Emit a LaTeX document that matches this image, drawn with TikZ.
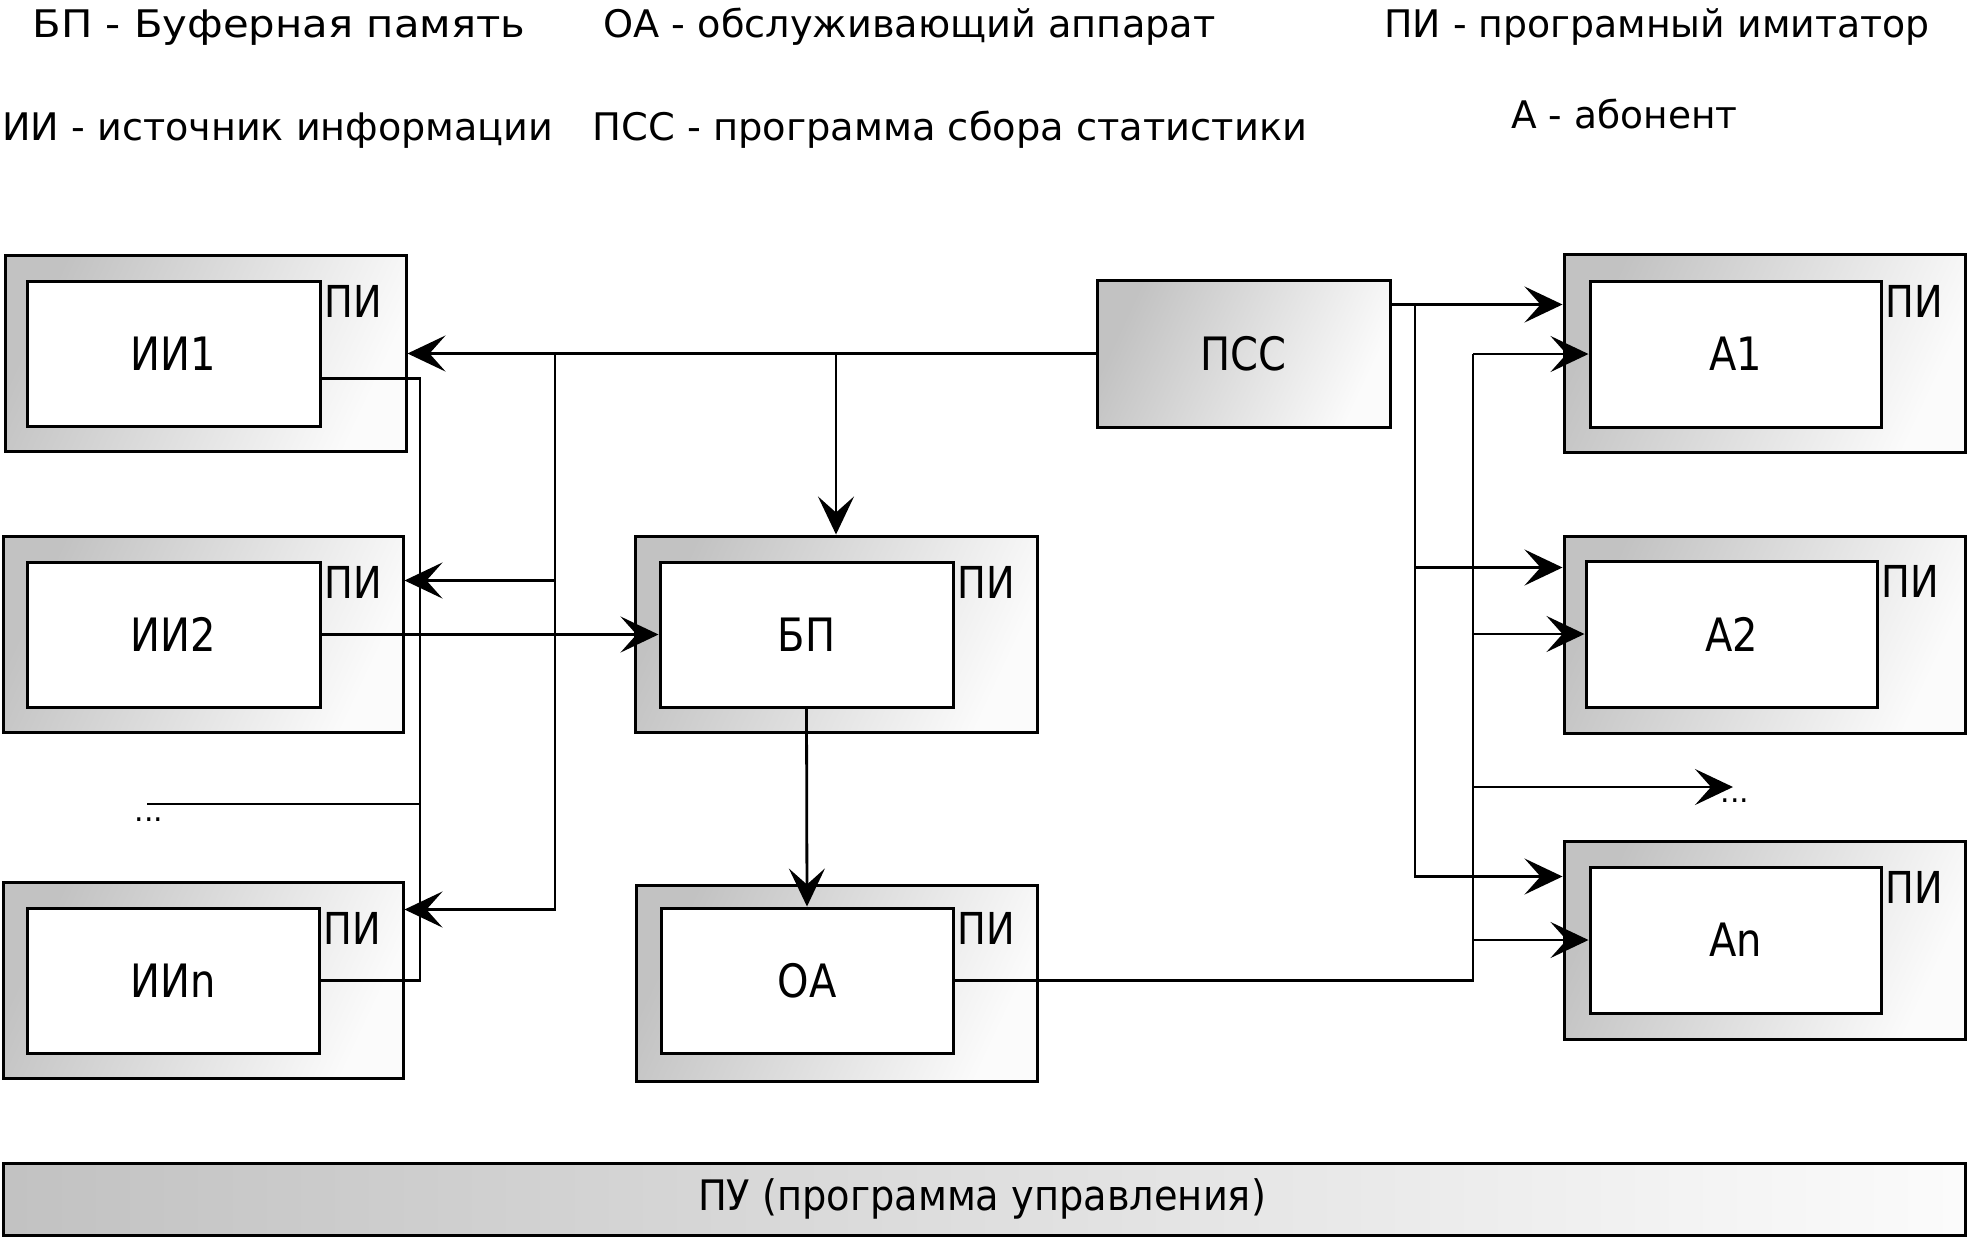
\documentclass[tikz,border=0pt]{standalone}
\usepackage{fontspec}
\setmainfont{DejaVu Sans}
\newfontfamily\lblfont[FakeStretch=0.87]{DejaVu Sans}
\usetikzlibrary{arrows.meta,calc,fit}
\definecolor{shL}{gray}{0.76}
\definecolor{shR}{gray}{0.985}
\newcommand\fitw[2]{\resizebox{#1}{\height}{#2}}
\begin{document}
\begin{tikzpicture}[x=0.5pt,y=-0.5pt,
 outerbox/.style={draw=black,line width=1.5pt,left color=shL,right color=shR,shading angle=65,inner sep=0pt},
 innerbox/.style={draw=black,line width=1.5pt,fill=white,inner sep=0pt},
 barbox/.style={draw=black,line width=1.5pt,left color=shL,right color=shR,inner sep=0pt},
 lbl/.style={font=\lblfont\fontsize{23}{26}\selectfont,inner sep=0pt},
 pilbl/.style={font=\lblfont\fontsize{22}{25}\selectfont,inner sep=0pt,anchor=north west},
 hdr/.style={font=\fontsize{19}{22}\selectfont,inner sep=0pt,anchor=base west},
 dots/.style={font=\fontsize{15}{15}\selectfont,inner sep=0pt},
 conn/.style={line width=1.4pt},
 arr/.style={conn,-{Stealth[length=19pt,width=18pt,inset=8pt]}},
]
\useasboundingbox (0,0) rectangle (1971,1239);

% header
\node[hdr] (h1) at (32,37) {\fitw{246.5pt}{БП - Буферная память}};
\node[hdr] (h2) at (603,37) {\fitw{306pt}{ОА - обслуживающий аппарат}};
\node[hdr] (h3) at (1384,37) {\fitw{272.5pt}{ПИ - програмный имитатор}};
\node[hdr] (h4) at (2,140) {\fitw{275.5pt}{ИИ - источник информации}};
\node[hdr] (h5) at (592,140) {\fitw{357.5pt}{ПСС - программа сбора статистики}};
\node[hdr] (h6) at (1511,128) {\fitw{113pt}{А - абонент}};

% boxes
\node[outerbox,fit={(5,255) (406,451)}] (o1) {};
\node[innerbox,fit={(27,281) (320,426)}] (i1) {};
\node[outerbox,fit={(3,536) (403,732)}] (o2) {};
\node[innerbox,fit={(27,562) (320,707)}] (i2) {};
\node[outerbox,fit={(3,882) (403,1078)}] (o3) {};
\node[innerbox,fit={(27,908) (319,1053)}] (i3) {};
\node[outerbox,fit={(635,536) (1037,732)}] (ob) {};
\node[innerbox,fit={(660,562) (953,707)}] (ib) {};
\node[outerbox,fit={(636,885) (1037,1081)}] (oo) {};
\node[innerbox,fit={(661,908) (953,1053)}] (io) {};
\node[outerbox,fit={(1097,280) (1390,427)}] (pss) {};
\node[outerbox,fit={(1564,254) (1965,452)}] (oa1) {};
\node[innerbox,fit={(1590,281) (1881,427)}] (ia1) {};
\node[outerbox,fit={(1564,536) (1965,733)}] (oa2) {};
\node[innerbox,fit={(1586,561) (1877,707)}] (ia2) {};
\node[outerbox,fit={(1564,841) (1965,1039)}] (oa3) {};
\node[innerbox,fit={(1590,867) (1881,1013)}] (ia3) {};
\node[barbox,fit={(3,1163) (1965,1235)}] (pu) {};

% labels
\node[lbl] (t1) at (i1) {ИИ1};
\node[lbl] (t2) at (i2) {ИИ2};
\node[lbl] (t3) at (i3) {ИИn};
\node[lbl] (tb) at (ib) {БП};
\node[lbl] (to) at (io) {ОА};
\node[lbl] (tp) at (pss) {ПСС};
\node[lbl] (ta1) at (ia1) {А1};
\node[lbl] (ta2) at (ia2) {А2};
\node[lbl] (ta3) at (ia3) {Аn};
\node[hdr,anchor=center,font=\fontsize{21}{24}\selectfont] (tpu) at (982,1199) {\fitw{284pt}{ПУ (программа управления)}};
\foreach \b/\n in {i1/p1,i2/p2,i3/p3,ib/pb,io/po,ia1/pa1,ia2/pa2,ia3/pa3}
  \node[pilbl] (\n) at ($(\b.north east)+(3,6)$) {ПИ};
\node[dots] (dl) at (149,820) {...};
\node[dots] (dr) at (1735,801) {...};

% coordinates
\coordinate (busL) at (420,0);
\coordinate (j1) at (555,0);
\coordinate (busM) at (1415,0);
\coordinate (busR) at (1473,0);
\coordinate (o2in) at ($(o2.north east)+(0,46)$);
\coordinate (o3in) at ($(o3.north east)+(0,29)$);
\coordinate (i1o) at ($(i1.south east)!0.33!(i1.north east)$);
\coordinate (dle) at (147,804);
\coordinate (dre) at (1733,787);
\coordinate (psso) at ($(pss.north east)+(0,26)$);
\coordinate (a2in) at ($(oa2.north west)+(0,33)$);
\coordinate (a3in) at ($(oa3.north west)+(0,37)$);

% connectors
\draw[arr] (pss.west) -- (pss.west -| o1.east);
\draw[arr] (j1 |- pss.west) |- (o3in);
\draw[arr] (j1 |- o2in) -- (o2in);
\draw[arr] (ob.north |- pss.west) -- (ob.north);
\draw[conn] (i1o) -| (busL |- i3.east) -- (i3.east);
\draw[conn] (dle) -- (dle -| busL);
\draw[arr] (i2.east) -- (ib.west);
\draw[arr] (ib.south) -- (io.north);
\draw[conn] (io.east) -| (busR |- ia1.west);
\draw[arr] (busR |- ia1.west) -- (ia1.west);
\draw[arr] (busR |- ia2.west) -- (ia2.west);
\draw[arr] (busR |- dre) -- (dre);
\draw[arr] (busR |- ia3.west) -- (ia3.west);
\draw[arr] (psso) -- (psso -| oa1.west);
\draw[arr] (busM |- psso) |- (a3in);
\draw[arr] (busM |- a2in) -- (a2in);
\end{tikzpicture}
\end{document}
